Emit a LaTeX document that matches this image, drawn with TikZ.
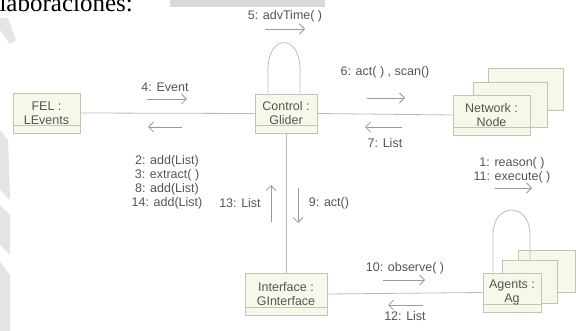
\documentclass[tikz,border=0pt]{standalone}
\usepackage{fontspec}
\setmainfont{Liberation Sans}
\newfontfamily\serifhead{Liberation Serif}
\usetikzlibrary{arrows.meta}
\definecolor{txt}{HTML}{555555}
\definecolor{ln}{HTML}{BBBBBB}
\definecolor{arr}{HTML}{9A9A9A}
\definecolor{boxfill}{HTML}{F7F7EA}
\definecolor{boxline}{HTML}{C4C4B4}
\definecolor{wm}{HTML}{E4E4E4}
\tikzset{
  obj/.style={draw=boxline, fill=boxfill, line width=0.8pt, text=txt, align=center,
    font=\fontsize{12.5}{14}\selectfont, inner sep=0pt,
    path picture={\draw[boxline, line width=0.7pt]
      ([yshift=8pt]path picture bounding box.south west) --
      ([yshift=8pt]path picture bounding box.south east);}},
  back/.style={draw=boxline, fill=boxfill, line width=0.8pt, inner sep=0pt},
  link/.style={draw=ln, line width=0.8pt},
  msg/.style={draw=arr, line width=0.7pt, -{Straight Barb[length=5pt,width=10pt,line width=0.8pt]}},
  lbl/.style={text=txt, font=\fontsize{12.5}{14}\selectfont, align=center, inner sep=0pt}
}
\begin{document}
\begin{tikzpicture}[x=1pt,y=-1pt]
\useasboundingbox (0,0) rectangle (576,331);
\clip (0,0) rectangle (576,331);
% background scan remnants
\fill[wm] (0,18) -- (8,18) -- (16,40) -- (10,44) -- (0,30) -- cycle;
\fill[wm] (0,130) -- (8,140) -- (10,200) -- (0,190) -- cycle;
\fill[wm] (0,205) -- (10,215) -- (10,255) -- (0,245) -- cycle;
\fill[wm] (0,262) -- (10,275) -- (10,331) -- (0,331) -- cycle;
\fill[gray!30] (170,0) rectangle (325,7);
\node[anchor=base east, inner sep=0pt, font=\serifhead\fontsize{25}{25}\selectfont] (hd) at (133,12) {colaboraciones:};

% stacked back boxes
\node[back, minimum width=75pt, minimum height=42pt] (nb2) at (525.5,89) {};
\node[back, minimum width=74pt, minimum height=45pt] (nb1) at (510,104.5) {};
\node[back, minimum width=57pt, minimum height=42pt] (ab2) at (546.5,271) {};
\node[back, minimum width=55pt, minimum height=43pt] (ab1) at (529.5,281.5) {};

% objects
\node[obj, minimum width=67pt, minimum height=40pt] (fel) at (46.5,113) {FEL :\\LEvents};
\node[obj, minimum width=62pt, minimum height=39pt] (ctl) at (286,113.5) {Control :\\Glider};
\node[obj, minimum width=77pt, minimum height=40pt] (net) at (491.5,115) {Network :\\Node};
\node[obj, minimum width=82pt, minimum height=42pt] (gif) at (286,294) {Interface :\\GInterface};
\node[obj, minimum width=58pt, minimum height=39pt] (ag) at (512,292.5) {Agents :\\Ag};

% links
\draw[link] (fel.east) -- (ctl.west);
\draw[link] (ctl.east) -- (net.west);
\draw[link] (ctl.south) -- (gif.north);
\draw[link] (gif.east) -- (ag.west);

% self loops
\coordinate (cl1) at ([xshift=-18pt]ctl.north);
\coordinate (cl2) at ([xshift=14pt]ctl.north);
\draw[link] (cl1) -- ++(0,-24) .. controls ++(0,-36) and ++(0,-36) .. ([yshift=24pt]cl2) -- (cl2);
\coordinate (al1) at (ag.north -| 493,0);
\coordinate (al2) at (ab1.north -| 530,0);
\draw[link] (al1) -- (493,235) .. controls (493,201.7) and (530,201.7) .. (530,235) -- (al2);

% messages
\coordinate (m5a) at (265,29); \coordinate (m5b) at (305,29);
\draw[msg] (m5a) -- (m5b);
\node[lbl] (l5) at (285,16) {5: advTime( )};

\coordinate (m4a) at (147,99); \coordinate (m4b) at (187,99);
\draw[msg] (m4a) -- (m4b);
\node[lbl] (l4) at (165,87) {4: Event};

\coordinate (m2a) at (182,127); \coordinate (m2b) at (148,127);
\draw[msg] (m2a) -- (m2b);
\node[lbl] (l2) at (167,182) {2: add(List)\\3: extract( )\\8: add(List)\\14: add(List)};

\coordinate (m13a) at (271,222); \coordinate (m13b) at (271,185);
\draw[msg] (m13a) -- (m13b);
\node[lbl] (l13) at (240,203) {13: List};

\coordinate (m9a) at (298,188); \coordinate (m9b) at (298,223);
\draw[msg] (m9a) -- (m9b);
\node[lbl] (l9) at (329,203) {9: act()};

\coordinate (m6a) at (367,98); \coordinate (m6b) at (405,98);
\draw[msg] (m6a) -- (m6b);
\node[lbl] (l6) at (385,72) {6: act( ) , scan()};

\coordinate (m7a) at (402,127); \coordinate (m7b) at (365,127);
\draw[msg] (m7a) -- (m7b);
\node[lbl] (l7) at (385,143) {7: List};

\node[lbl] (l1) at (512,170) {1: reason( )\\11: execute( )};
\coordinate (m1a) at (495,188); \coordinate (m1b) at (532,188);
\draw[msg] (m1a) -- (m1b);

\coordinate (m10a) at (383,280); \coordinate (m10b) at (425,280);
\draw[msg] (m10a) -- (m10b);
\node[lbl] (l10) at (405,268) {10: observe( )};

\coordinate (m12a) at (423,305); \coordinate (m12b) at (388,305);
\draw[msg] (m12a) -- (m12b);
\node[lbl] (l12) at (405,316) {12: List};
\end{tikzpicture}
\end{document}
